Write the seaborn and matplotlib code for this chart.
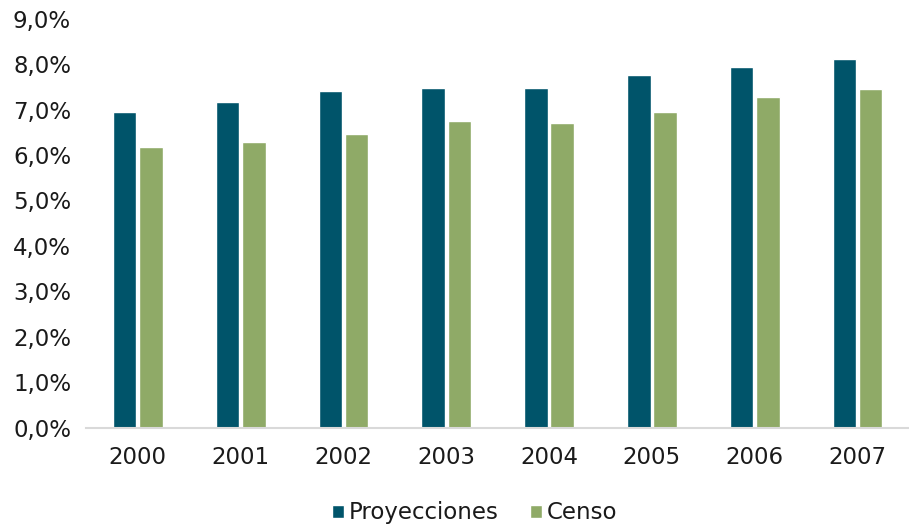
import pandas as pd
import matplotlib
matplotlib.use("Agg")
import matplotlib.pyplot as plt
import seaborn as sns
from matplotlib.ticker import FuncFormatter, MultipleLocator

# data (percent)
years = ["2000", "2001", "2002", "2003", "2004", "2005", "2006", "2007"]
proyecciones = [6.95, 7.16, 7.40, 7.47, 7.47, 7.76, 7.93, 8.10]
censo = [6.17, 6.29, 6.46, 6.75, 6.70, 6.94, 7.28, 7.46]
series_names = ["Proyecciones", "Censo"]

df = pd.DataFrame({
    "year": years * 2,
    "value": proyecciones + censo,
    "serie": [series_names[0]] * len(years) + [series_names[1]] * len(years),
})

sns.set_style("white")
plt.rcParams["font.family"] = ["DejaVu Sans"]

fig = plt.figure(figsize=(9.09, 5.29), dpi=100)
ax = fig.add_axes([0.095, 0.191, 0.905, 0.774])

colors = {"Proyecciones": "#00546A", "Censo": "#8FAA67"}
sns.barplot(data=df, x="year", y="value", hue="serie", palette=colors,
            width=0.51, gap=0.1, ax=ax, saturation=1)

ax.set_ylim(0, 9)
ax.yaxis.set_major_locator(MultipleLocator(1))
ax.yaxis.set_major_formatter(FuncFormatter(lambda v, p: f"{v:.1f}%".replace(".", ",")))
ax.set_xlabel("")
ax.set_ylabel("")
ax.tick_params(axis="both", labelsize=16.5, colors="#1a1a1a", length=0)
ax.tick_params(axis="x", pad=13)
ax.tick_params(axis="y", pad=11)

for s in ["top", "right", "left"]:
    ax.spines[s].set_visible(False)
ax.spines["bottom"].set_color("#D9D9D9")
ax.spines["bottom"].set_linewidth(1.5)
ax.grid(False)

ax.legend_.remove()
handles, labels = ax.get_legend_handles_labels()
fig.legend(handles, labels, loc="lower center", bbox_to_anchor=(0.522, -0.03),
           ncol=2, frameon=False, fontsize=16.5, handlelength=0.5, handleheight=0.5,
           handletextpad=0.2, columnspacing=1.4, labelcolor="#1a1a1a")

fig.savefig("out.png", dpi=100)
